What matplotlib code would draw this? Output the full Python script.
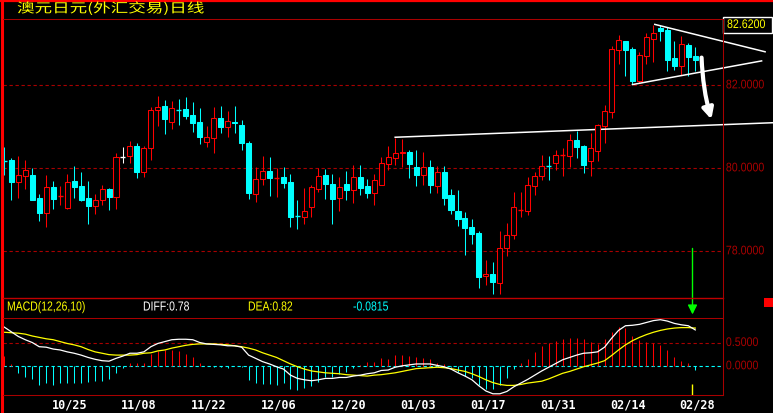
import matplotlib.pyplot as plt
from matplotlib.patches import Rectangle
from matplotlib.lines import Line2D
from matplotlib.patheffects import AbstractPathEffect
import matplotlib.transforms as mtrans

# daily candles (AUD/JPY)
opens = [80.18, 80.20, 79.68, 79.82, 79.84, 79.28, 78.93, 79.55, 79.32, 79.05,
         79.69, 79.57, 79.28, 79.09, 79.24, 79.50, 79.32, 80.27, 80.30, 80.54,
         79.92, 80.50, 81.41, 81.50, 81.12, 81.42, 81.43, 81.28, 81.12, 80.63,
         80.74, 81.21, 80.99, 81.12, 81.04, 80.61, 79.39, 79.74, 79.93, 79.77,
         79.79, 79.67, 78.85, 78.83, 79.07, 79.50, 79.84, 79.62, 79.29, 79.62,
         79.48, 79.79, 79.57, 79.40, 79.60, 80.11, 80.26, 80.36, 80.39, 80.03,
         79.85, 80.03, 79.58, 79.91, 79.36, 78.97, 78.80, 78.59, 78.44, 77.40,
         77.45, 77.24, 78.09, 78.40, 78.99, 78.98, 79.58, 79.82, 80.06, 80.14,
         80.32, 80.30, 80.68, 80.54, 80.18, 80.42, 81.03, 81.36, 82.86, 83.06,
         82.87, 82.11, 82.71, 83.12, 83.38, 83.33, 82.66, 82.47, 82.97, 82.71]
highs = [80.51, 80.24, 80.30, 80.20, 80.01, 79.38, 79.84, 79.69, 79.57, 79.86,
         80.06, 79.91, 79.69, 79.38, 79.60, 79.53, 80.37, 80.51, 80.66, 80.61,
         80.54, 81.47, 81.74, 81.65, 81.62, 81.67, 81.72, 81.60, 81.45, 81.02,
         81.48, 81.50, 81.38, 81.50, 81.16, 80.66, 80.03, 80.30, 80.27, 80.01,
         80.03, 79.86, 79.24, 79.52, 79.60, 80.01, 79.98, 79.86, 79.79, 79.93,
         80.08, 80.08, 79.74, 79.86, 80.27, 80.54, 80.73, 80.71, 80.44, 80.44,
         80.39, 80.20, 80.06, 80.06, 79.50, 79.48, 78.95, 78.78, 78.49, 77.79,
         77.74, 78.49, 78.68, 79.43, 79.43, 79.79, 79.91, 80.32, 80.30, 80.44,
         80.49, 80.83, 80.90, 80.56, 80.85, 81.07, 81.53, 82.95, 83.21, 83.07,
         82.92, 82.80, 83.26, 83.45, 83.45, 83.40, 83.07, 83.19, 83.02, 82.92]
lows = [79.84, 79.24, 79.29, 79.50, 79.23, 78.73, 78.59, 79.02, 79.12, 79.02,
        79.28, 79.21, 78.66, 78.90, 79.12, 79.00, 79.02, 80.13, 80.12, 79.77,
        79.79, 80.20, 81.02, 80.83, 80.95, 81.04, 81.19, 80.87, 80.59, 80.51,
        80.37, 80.85, 80.75, 80.85, 80.44, 79.26, 79.19, 79.60, 79.33, 79.31,
        79.52, 78.59, 78.54, 78.66, 78.83, 79.43, 79.26, 78.66, 78.97, 79.24,
        79.16, 79.36, 79.28, 79.12, 79.59, 79.96, 80.08, 80.03, 79.77, 79.57,
        79.60, 79.40, 79.40, 79.12, 78.90, 78.61, 77.91, 78.18, 77.12, 77.19,
        76.97, 76.97, 77.89, 78.30, 78.83, 78.87, 79.36, 79.72, 79.72, 79.96,
        79.81, 80.03, 80.25, 79.89, 79.81, 80.18, 80.61, 81.21, 82.51, 82.22,
        82.03, 82.06, 82.51, 82.56, 83.07, 82.34, 82.37, 82.25, 82.22, 82.34]
closes = [80.17, 79.68, 79.83, 79.95, 79.24, 78.92, 79.55, 79.26, 79.33, 79.67,
          79.55, 79.24, 79.09, 79.24, 79.50, 79.31, 80.27, 80.27, 80.54, 79.91,
          80.49, 81.40, 81.49, 81.19, 81.45, 81.41, 81.26, 81.09, 80.75, 80.75,
          81.21, 80.99, 81.14, 81.09, 80.61, 79.40, 79.74, 79.93, 79.77, 79.78,
          79.65, 78.83, 78.84, 78.97, 79.55, 79.81, 79.62, 79.26, 79.55, 79.48,
          79.79, 79.53, 79.40, 79.72, 80.13, 80.27, 80.37, 80.39, 80.10, 79.84,
          80.03, 79.60, 79.91, 79.28, 79.00, 78.78, 78.56, 78.42, 77.38, 77.45,
          77.26, 78.08, 78.39, 79.07, 79.00, 79.60, 79.81, 80.06, 80.05, 80.32,
          80.33, 80.68, 80.51, 80.08, 80.49, 81.04, 81.38, 82.87, 83.09, 82.85,
          82.10, 82.73, 83.16, 83.26, 83.31, 82.61, 82.47, 83.00, 82.68, 82.62]

# MACD(12,26,10)
diff = [0.84, 0.74, 0.64, 0.57, 0.51, 0.42, 0.41, 0.37, 0.35, 0.31,
        0.28, 0.24, 0.19, 0.15, 0.12, 0.11, 0.17, 0.22, 0.28, 0.28,
        0.31, 0.42, 0.49, 0.53, 0.57, 0.58, 0.58, 0.57, 0.51, 0.48,
        0.47, 0.46, 0.44, 0.44, 0.41, 0.24, 0.17, 0.10, 0.05, -0.01,
        -0.06, -0.19, -0.26, -0.29, -0.31, -0.29, -0.26, -0.26, -0.24, -0.24,
        -0.21, -0.19, -0.16, -0.14, -0.09, -0.08, -0.02, 0.01, 0.03, 0.05,
        0.05, 0.05, 0.02, -0.01, -0.06, -0.14, -0.21, -0.29, -0.42, -0.53,
        -0.59, -0.59, -0.54, -0.44, -0.36, -0.28, -0.19, -0.10, -0.02, 0.06,
        0.14, 0.19, 0.24, 0.28, 0.29, 0.31, 0.41, 0.60, 0.77, 0.87,
        0.88, 0.90, 0.94, 0.98, 1.00, 0.97, 0.92, 0.89, 0.87, 0.78]
dea = [0.73, 0.72, 0.71, 0.69, 0.65, 0.62, 0.59, 0.57, 0.53, 0.49,
       0.46, 0.42, 0.36, 0.31, 0.28, 0.25, 0.24, 0.24, 0.24, 0.25,
       0.28, 0.29, 0.33, 0.35, 0.39, 0.42, 0.45, 0.47, 0.48, 0.48,
       0.48, 0.47, 0.46, 0.44, 0.42, 0.39, 0.35, 0.29, 0.24, 0.19,
       0.12, 0.05, -0.01, -0.06, -0.10, -0.12, -0.14, -0.15, -0.16, -0.18,
       -0.19, -0.20, -0.21, -0.19, -0.18, -0.16, -0.14, -0.11, -0.08, -0.05,
       -0.04, -0.03, -0.02, -0.03, -0.05, -0.08, -0.11, -0.16, -0.22, -0.29,
       -0.35, -0.39, -0.41, -0.41, -0.39, -0.36, -0.34, -0.32, -0.27, -0.21,
       -0.15, -0.11, -0.06, -0.01, 0.03, 0.07, 0.12, 0.23, 0.35, 0.46,
       0.55, 0.62, 0.68, 0.73, 0.77, 0.80, 0.82, 0.83, 0.83, 0.82]
macd = [2 * (a - b) for a, b in zip(diff, dea)]

date_pos = [9, 19, 29, 39, 49, 59, 69, 79, 89, 99]
date_labels = ['10/25', '11/08', '11/22', '12/06', '12/20',
               '01/03', '01/17', '01/31', '02/14', '02/28']
price_ticks = [82.0, 80.0, 78.0]
macd_ticks = [0.5, 0.0]
last_price = 82.62

RED = '#ff0000'
CYAN = '#00ffff'
YEL = '#ffff00'
DARK = '#a80000'
SANS = ['Liberation Sans', 'DejaVu Sans']


class Squeeze(AbstractPathEffect):
    """scale glyphs horizontally around the text origin (narrow / wide fonts)"""

    def __init__(self, sx):
        super().__init__()
        self.sx = sx

    def draw_path(self, renderer, gc, tpath, affine, rgbFace=None):
        m = affine.get_matrix()
        tx, ty = m[0, 2], m[1, 2]
        squeeze = mtrans.Affine2D().translate(-tx, -ty).scale(self.sx, 1).translate(tx, ty)
        renderer.draw_path(gc, tpath, affine + squeeze, rgbFace)


NARROW = [Squeeze(0.85)]

W, H = 773, 413
fig = plt.figure(figsize=(W / 100, H / 100), dpi=100, facecolor='black')


def box(x0, y0, x1, y1):
    return [x0 / W, 1 - y1 / H, (x1 - x0) / W, (y1 - y0) / H]


def fline(x0, y0, x1, y1, color, lw=0.75, **kw):
    fig.add_artist(Line2D([x0 / W, x1 / W], [1 - y0 / H, 1 - y1 / H],
                          color=color, lw=lw, transform=fig.transFigure, **kw))


ax = fig.add_axes(box(3, 19, 723, 297))
axm = fig.add_axes(box(3, 318, 723, 395))
for a in (ax, axm):
    a.set_facecolor('black')
    a.set_xlim(-0.19, 102.97)
    a.set_xticks([])
    a.set_yticks([])
    for s in a.spines.values():
        s.set_visible(False)
ax.set_ylim(76.90, 83.60)
axm.set_ylim(-0.616, 1.036)

# grid + right hand labels
for p in price_ticks:
    ax.axhline(p, color=DARK, lw=0.8, dashes=(3, 2.4))
    ax.text(1.004, p, '%.4f' % p, transform=ax.get_yaxis_transform(), color=DARK,
            fontsize=9, family=SANS, va='center', ha='left', clip_on=False,
            path_effects=NARROW)
axm.axhline(0.5, color=DARK, lw=0.8, dashes=(3, 2.4))
axm.axhline(0.0, color=CYAN, lw=0.8, dashes=(3, 2.4))
for p in macd_ticks:
    axm.text(1.004, p, '%.4f' % p, transform=axm.get_yaxis_transform(), color=DARK,
             fontsize=9, family=SANS, va='center', ha='left', clip_on=False,
             path_effects=NARROW)

# candles: red hollow up, cyan filled down, cross when open == close
bw = 0.72
for i, (o, h, l, c) in enumerate(zip(opens, highs, lows, closes)):
    col = RED if c > o else (CYAN if c < o else 'white')
    ax.vlines(i, l, h, color=col, lw=0.75)
    if abs(c - o) < 0.015:
        ax.hlines((o + c) / 2, i - bw / 2, i + bw / 2, color=col, lw=1.0)
    else:
        ax.add_patch(Rectangle((i - bw / 2, min(o, c)), bw, abs(c - o),
                               facecolor='black' if c > o else col,
                               edgecolor=col, lw=0.75, zorder=3))

# hand drawn trend lines and arrows
ax.plot([56.0, 110.1], [80.75, 81.10], color='white', lw=1.1, clip_on=False)
ax.plot([93.2, 109.0], [83.47, 82.81], color='white', lw=1.1, clip_on=False)
ax.plot([90.0, 108.5], [82.02, 82.59], color='white', lw=1.1, clip_on=False)
ax.annotate('', xy=(101.3, 81.18), xytext=(99.9, 82.67), annotation_clip=False,
            arrowprops=dict(arrowstyle='-|>', color='white', lw=3.0,
                            mutation_scale=16, shrinkA=0, shrinkB=0,
                            connectionstyle='arc3,rad=0.06'))
ax.annotate('', xy=(98.6, 76.48), xytext=(98.6, 78.07), annotation_clip=False,
            arrowprops=dict(arrowstyle='-|>', color='#00ff00', lw=1.0,
                            mutation_scale=14, shrinkA=0, shrinkB=0))

# MACD panel
x = list(range(len(macd)))
axm.vlines([i for i in x if macd[i] > 0], 0, [m for m in macd if m > 0], color=RED, lw=0.75)
axm.vlines([i for i in x if macd[i] < 0], 0, [m for m in macd if m < 0], color=CYAN, lw=0.75)
axm.plot(x, dea, color=YEL, lw=0.9)
axm.plot(x, diff, color='white', lw=0.9)
axm.vlines(98.6, -0.62, -0.38, color=YEL, lw=1.0)

# date labels
bt = mtrans.blended_transform_factory(axm.transData, fig.transFigure)
for p, s in zip(date_pos, date_labels):
    fig.text(p + 0.3, 1 - 405 / H, s, transform=bt, color='white', fontsize=8.5,
             family='DejaVu Sans Mono', weight='bold', ha='center', va='center')

# frame lines
fline(0, 1, W, 1, RED, lw=1.6)
fline(1.5, 0, 1.5, H, RED, lw=2.2)
fline(3, 19, 723, 19, DARK)
fline(3, 297.5, 723, 297.5, '#c00000', lw=1.0)
fline(3, 317.5, 723, 317.5, DARK)
fline(3, 395, 723, 395, DARK)
fline(723, 19, 723, 395, DARK)
fig.add_artist(Rectangle((764 / W, 1 - 307 / H), 9 / W, 9 / H, facecolor=RED,
                         edgecolor='none', transform=fig.transFigure))

# last price box
fig.add_artist(Rectangle((723 / W, 1 - 33 / H), 48.5 / W, 16 / H, facecolor='black',
                         edgecolor='white', lw=1.0, transform=fig.transFigure))
fig.text(727 / W, 1 - 25 / H, '%.4f' % last_price, color=YEL, fontsize=9,
         family=SANS, ha='left', va='center', path_effects=NARROW)

# titles
fig.text(17 / W, 1 - 8.5 / H, '澳元日元(外汇交易)日线', color=YEL, fontsize=9.5,
         family=['Noto Sans CJK SC', 'DejaVu Sans'], ha='left', va='center',
         path_effects=[Squeeze(1.33)])
hy = 1 - 307.5 / H
hdr = dict(fontsize=9.4, family=SANS, va='center', ha='left', path_effects=[Squeeze(0.8)])
fig.text(7 / W, hy, 'MACD(12,26,10)', color=YEL, **hdr)
fig.text(143 / W, hy, 'DIFF:%.2f' % diff[-1], color='white', **hdr)
fig.text(248 / W, hy, 'DEA:%.2f' % dea[-1], color=YEL, **hdr)
fig.text(353 / W, hy, '-0.0815', color=CYAN, **hdr)

fig.savefig('out.png', dpi=100, facecolor='black')
